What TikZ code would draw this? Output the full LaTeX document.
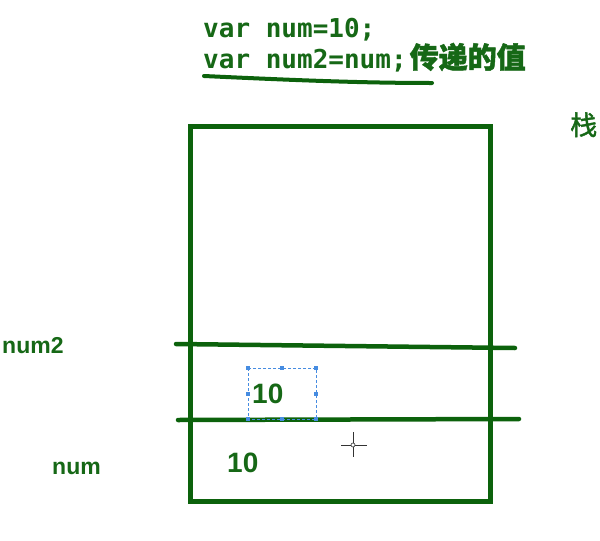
\documentclass[tikz,border=0pt]{standalone}
\usepackage{fontspec}
\setmainfont{Liberation Sans}
\newfontfamily\monof{DejaVu Sans Mono}
\newfontfamily\cjk{Noto Sans CJK SC}[FakeBold=1.5]
\definecolor{dg}{RGB}{12,98,12}
\definecolor{tg}{RGB}{22,104,22}
\definecolor{selblue}{RGB}{70,140,225}
\tikzset{
  wall/.style={draw=dg, line width=5pt},
  rule/.style={draw=dg, line width=4pt, line cap=round},
  code/.style={anchor=base west, inner sep=0pt, text=tg, font=\monof\bfseries\fontsize{26}{28}\selectfont},
  lbl/.style={anchor=base west, inner sep=0pt, text=tg, font=\bfseries\fontsize{23}{25}\selectfont},
  val/.style={anchor=base west, inner sep=0pt, text=tg, font=\bfseries\fontsize{28}{30}\selectfont},
  handle/.style={fill=selblue, minimum size=3.5pt, inner sep=0pt},
}
\begin{document}
\begin{tikzpicture}[x=1pt,y=-1pt]
\useasboundingbox[fill=white] (0,0) rectangle (600,541);
% code text
\node[code] (l1) at (203,37) {var num=10;};
\node[code] (l2) at (203,68) {var num2=num;\hspace{3pt}{\cjk\fontsize{29}{30}\selectfont 传递的值}};
\draw[rule] (204,76) .. controls (290,80) and (360,83) .. (432,83);
% stack label
\node[anchor=base west, inner sep=0pt, text=tg, font=\cjk\fontsize{27}{29}\selectfont] (zhan) at (570,135) {栈};
% stack box
\draw[wall] (190,126) rectangle (490,501);
\coordinate (r1a) at (176,344);
\coordinate (r1b) at (515,348);
\coordinate (r2a) at (178,420);
\coordinate (r2b) at (519,419);
\draw[rule, line width=4.5pt] (r1a) -- (r1b);
\draw[rule, line width=4.5pt] (r2a) -- (r2b);
% labels
\node[lbl] (n2) at (2,353) {num2};
\node[lbl] (n1) at (52,474) {num};
% values
\node[val] (v2) at (252,403) {10};
\node[val] (v1) at (227,472) {10};
% selection box
\draw[selblue, line width=0.8pt, dash pattern=on 3pt off 2pt] (248,368) rectangle (316,419);
\foreach \p in {(248,368),(282,368),(316,368),(248,394),(316,394),(248,419),(282,419),(316,419)}
  \node[handle] at \p {};
% cursor
\coordinate (cur) at (353,445);
\draw[black!80, line width=1pt] (341,445) -- (367,445) (353,432) -- (353,457);
\draw[black!80, fill=white, line width=0.6pt] (cur) circle (2pt);
\end{tikzpicture}
\end{document}
